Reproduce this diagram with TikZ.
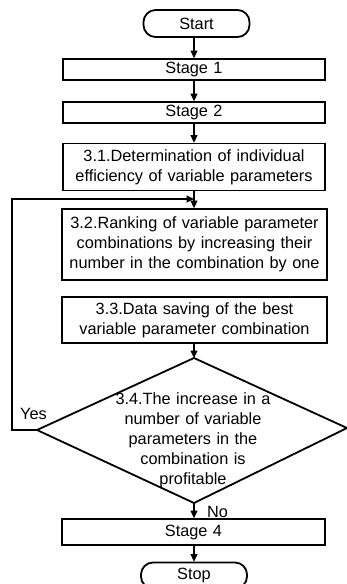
\documentclass[tikz,border=0pt]{standalone}
\usepackage{fontspec}
\setmainfont[WordSpace={1.2,0,0}]{Liberation Sans}
\usetikzlibrary{arrows.meta}
\newcommand{\fs}{\fontsize{16.3pt}{20pt}\selectfont}
\begin{document}
\begin{tikzpicture}[x=1pt,y=-1pt,
  box/.style={draw, line width=1.8pt, minimum width=262pt, inner sep=0pt, align=center, font=\fs},
  term/.style={draw, line width=1.8pt, rounded corners=12pt, inner sep=0pt, align=center, font=\fs},
  arr/.style={line width=1.3pt, -{Triangle[length=7.5pt,width=7pt]}},
  lbl/.style={font=\fs, inner sep=0pt}]
\useasboundingbox (0,0) rectangle (347,584);
\node[term, minimum width=106pt, minimum height=27pt] (start) at (196.5,23.5) {Start};
\node[box, minimum height=21pt] (s1) at (194,69.5) {Stage 1};
\node[box, minimum height=21pt] (s2) at (194,112.5) {Stage 2};
\node[box, minimum height=47pt] (s31) at (194,167) {3.1.Determination of individual\\efficiency of variable parameters};
\node[box, minimum width=265pt, minimum height=71pt] (s32) at (194.5,244.5) {3.2.Ranking of variable parameter\\combinations by increasing their\\number in the combination by one};
\node[box, minimum width=265pt, minimum height=46pt] (s33) at (194.5,320) {3.3.Data saving of the best\\variable parameter combination};
\coordinate (dT) at (194,358);
\coordinate (dL) at (37,430);
\coordinate (dR) at (347,428);
\coordinate (dB) at (194,503);
\draw[line width=1.8pt, line join=miter] (dT) -- (dL) -- (dB) -- (dR) -- cycle;
\node[font=\fs, align=center, inner sep=0pt] (s34) at (193,440) {3.4.The increase in a\\number of variable\\parameters in the\\combination is\\profitable};
\node[box, minimum width=263pt, minimum height=26pt] (s4) at (193.5,532) {Stage 4};
\node[term, minimum width=106pt, minimum height=26pt] (stop) at (194,575.5) {Stop};
\node[lbl, anchor=west] (yes) at (20,414) {Yes};
\node[lbl, anchor=west] (no) at (207,512) {No};
\draw[arr] (start.south -| s1.north) -- (s1.north);
\draw[arr] (s1) -- (s2);
\draw[arr] (s2) -- (s31);
\draw[arr] (s31.south) -- (s31.south |- s32.north);
\draw[arr] (s33.south -| dT) -- (dT);
\coordinate (fb1) at (12,430);
\coordinate (fb2) at (12,199);
\coordinate (join) at (194,199);
\draw[arr] (dL) -- (fb1) -- (fb2) -- (join);
\draw[arr] (dB) -- (dB |- s4.north);
\draw[arr] (s4.south -| stop.north) -- (stop.north);
\end{tikzpicture}
\end{document}
